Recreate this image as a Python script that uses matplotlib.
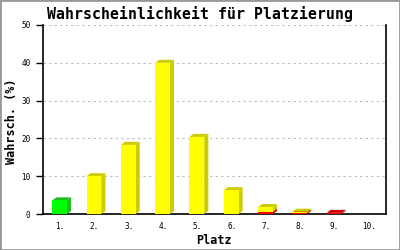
import matplotlib.pyplot as plt
from matplotlib.patches import Polygon, Rectangle

plaetze = ["1.", "2.", "3.", "4.", "5.", "6.", "7.", "8.", "9.", "10."]
gruen = [3.6, 0, 0, 0, 0, 0, 0, 0, 0, 0]
rot = [0, 0, 0, 0, 0, 0, 0.6, 0.35, 0.3, 0]
gelb = [0, 10.0, 18.3, 40.0, 20.4, 6.3, 1.25, 0.25, 0, 0]

farben = [("#ff0000", "#cc0000"), ("#00ff00", "#22bb22"), ("#ffff00", "#cccc00")]

fig = plt.figure(figsize=(4, 2.5), dpi=100)
fig.patches.append(Rectangle((0, 0), 1, 1, transform=fig.transFigure,
                             fill=False, edgecolor="#999999", linewidth=2))
ax = fig.add_axes([43 / 400, 36 / 250, 343 / 400, 189 / 250])

mono = "DejaVu Sans Mono"
breite = 0.43
dx, dy = 0.12, 0.8          # 3D Versatz in Dateneinheiten

def balken(x, y0, h, front, dunkel):
    if h <= 0:
        return
    x0, x1, y1 = x - 0.23, x - 0.23 + breite, y0 + h
    ax.add_patch(Polygon([(x1, y0), (x1 + dx, y0 + dy), (x1 + dx, y1 + dy), (x1, y1)],
                         closed=True, facecolor=dunkel, edgecolor="none", zorder=3))
    ax.add_patch(Polygon([(x0, y1), (x0 + dx, y1 + dy), (x1 + dx, y1 + dy), (x1, y1)],
                         closed=True, facecolor=dunkel, edgecolor="none", zorder=3))
    ax.add_patch(Rectangle((x0, y0), breite, h, facecolor=front, edgecolor="none", zorder=4))

for i in range(len(plaetze)):
    x = i + 1
    unten = 0
    for werte, (f, d) in zip([rot, gruen, gelb], farben):
        balken(x, unten, werte[i], f, d)
        unten += werte[i]

ax.set_xlim(0.5, 10.5)
ax.set_ylim(0, 50)
ax.set_xticks(range(1, 11))
ax.set_xticklabels(plaetze, fontfamily=mono, fontsize=5.5)
ax.set_yticks([0, 10, 20, 30, 40, 50])
ax.set_yticklabels(["0", "10", "20", "30", "40", "50"], fontfamily=mono, fontsize=5.5)
ax.tick_params(axis="x", length=0, pad=6)
ax.tick_params(axis="y", length=5, width=1, pad=4)
ax.yaxis.grid(True, color="#bbbbbb", linestyle=(0, (2, 3)), linewidth=0.8)
ax.set_axisbelow(True)
ax.spines["top"].set_visible(False)
for s in ["left", "right", "bottom"]:
    ax.spines[s].set_linewidth(1.2)

fig.text(0.5, 1 - 14 / 250, "Wahrscheinlichkeit für Platzierung", fontfamily=mono,
         fontsize=10.7, fontweight="bold", ha="center", va="center")
fig.text(214 / 400, 1 - 240 / 250, "Platz", fontfamily=mono, fontsize=8.5,
         fontweight="bold", ha="center", va="center")
fig.text(12 / 400, 1 - 121 / 250, "Wahrsch. (%)", fontfamily=mono, fontsize=8.5,
         fontweight="bold", ha="center", va="center", rotation=90)

fig.savefig("out.png", dpi=100)
